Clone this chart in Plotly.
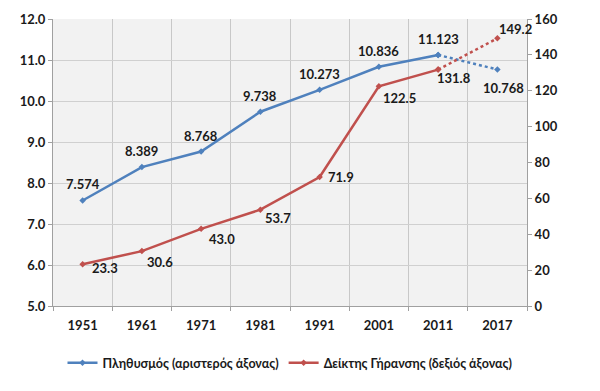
import plotly.graph_objects as go

years = ["1951", "1961", "1971", "1981", "1991", "2001", "2011", "2017"]
population = [7.574, 8.389, 8.768, 9.738, 10.273, 10.836, 11.123, 10.768]
ageing = [23.3, 30.6, 43.0, 53.7, 71.9, 122.5, 131.8, 149.2]
pop_labels = ["7.574", "8.389", "8.768", "9.738", "10.273", "10.836", "11.123", "10.768"]
age_labels = ["23.3", "30.6", "43.0", "53.7", "71.9", "122.5", "131.8", "149.2"]
left_ticks = [5, 6, 7, 8, 9, 10, 11, 12]
right_ticks = [0, 20, 40, 60, 80, 100, 120, 140, 160]

BLUE = "#4f81bd"
RED = "#c0504d"
FONT = "Lato"

fig = go.Figure()
fig.add_trace(go.Scatter(x=years[:7], y=population[:7], mode="lines+markers",
                         line=dict(color=BLUE, width=2.5), marker=dict(size=5, symbol="diamond", color=BLUE),
                         name="<b>Πληθυσμός (αριστερός άξονας)</b>", yaxis="y"))
fig.add_trace(go.Scatter(x=years[:7], y=ageing[:7], mode="lines+markers",
                         line=dict(color=RED, width=2.5), marker=dict(size=5, symbol="diamond", color=RED),
                         name="<b>Δείκτης Γήρανσης (δεξιός άξονας)</b>", yaxis="y2"))
fig.add_trace(go.Scatter(x=years[6:], y=population[6:], mode="lines+markers",
                         line=dict(color=BLUE, width=2.5, dash="dot"), marker=dict(size=5, symbol="diamond", color=BLUE),
                         showlegend=False, yaxis="y"))
fig.add_trace(go.Scatter(x=years[6:], y=ageing[6:], mode="lines+markers",
                         line=dict(color=RED, width=2.5, dash="dot"), marker=dict(size=5, symbol="diamond", color=RED),
                         showlegend=False, yaxis="y2"))

annots = []
lab_font = dict(family=FONT, size=13, color="#1a1a1a")
for i, (v, t) in enumerate(zip(population, pop_labels)):
    if i == 7:
        xs, ys = 6, -18
    else:
        xs, ys = 0, 16
    annots.append(dict(x=i, y=v, xref="x", yref="y", text="<b>%s</b>" % t, showarrow=False,
                       xshift=xs, yshift=ys, font=lab_font))
age_shift = [(22, -4), (18, -11), (21, -10), (18, -8), (21, 0), (21, -12), (16, -8), (18, 9)]
for i, ((v, t), (xs, ys)) in enumerate(zip(zip(ageing, age_labels), age_shift)):
    annots.append(dict(x=i, y=v, xref="x", yref="y2", text="<b>%s</b>" % t, showarrow=False,
                       xshift=xs, yshift=ys, font=lab_font))

tick_font = dict(family=FONT, size=13, color="#1a1a1a")
fig.update_layout(
    width=584, height=375,
    margin=dict(l=45, r=65, t=11, b=77, autoexpand=False),
    paper_bgcolor="white", plot_bgcolor="#f2f2f2",
    annotations=annots,
    showlegend=True,
    legend=dict(orientation="h", x=0.5, xanchor="center", xref="paper",
                y=0.053, yanchor="middle", yref="container",
                font=dict(family=FONT, size=12.5, color="#1a1a1a"), itemwidth=30),
    xaxis=dict(type="category", tickson="boundaries", showgrid=True, gridcolor="#c8c8c8",
               ticks="outside", ticklen=4, tickcolor="#a0a0a0", showline=True, linecolor="#a0a0a0",
               tickfont=tick_font, tickprefix="<b>", ticksuffix="</b>", range=[-0.5, 7.5],
               ticklabelstandoff=7, automargin=False),
    yaxis=dict(range=[5, 12], tickvals=left_ticks, ticktext=["<b>%.1f</b>" % v for v in left_ticks],
               showgrid=True, gridcolor="#d0d0d0", ticks="outside", ticklen=4, tickcolor="#a0a0a0",
               showline=True, linecolor="#a0a0a0", tickfont=tick_font, zeroline=False, automargin=False),
    yaxis2=dict(range=[0, 160], tickvals=right_ticks, ticktext=["<b>%d</b>" % v for v in right_ticks],
                overlaying="y", side="right", showgrid=False, ticks="outside", ticklen=4,
                tickcolor="#a0a0a0", showline=True, linecolor="#a0a0a0", tickfont=tick_font,
                zeroline=False, automargin=False),
)

fig.write_html("out.html")
